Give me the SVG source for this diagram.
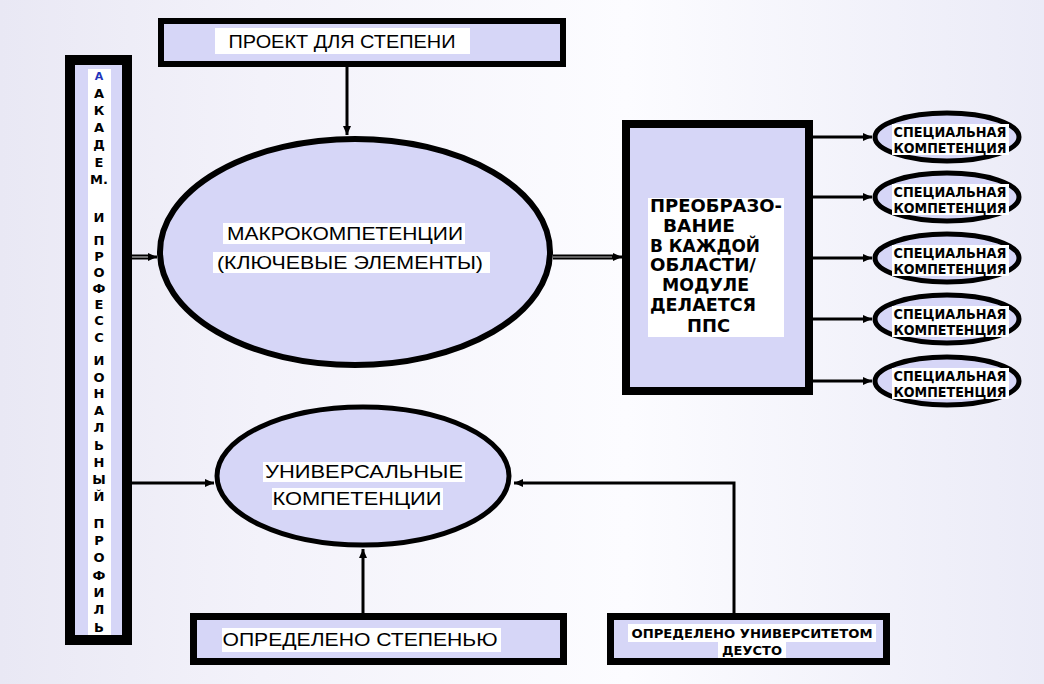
<svg xmlns="http://www.w3.org/2000/svg" width="1044" height="684" viewBox="0 0 1044 684">
<defs>
<linearGradient id="bg" x1="0" y1="0" x2="1" y2="0">
<stop offset="0" stop-color="#e9e8f4"/>
<stop offset="0.25" stop-color="#f3f2fa"/>
<stop offset="0.6" stop-color="#fcfcff"/>
<stop offset="1" stop-color="#ebebf7"/>
</linearGradient>
<marker id="arr" markerUnits="userSpaceOnUse" markerWidth="10" markerHeight="10" refX="9" refY="4" orient="auto">
<path d="M0,0 L9,4 L0,8 z" fill="#000"/>
</marker>
<style>
.box{fill:#d6d6f7;stroke:#000;}
.ell{fill:#d6d6f7;stroke:#000;}
.bgw{fill:#fff;}
.t{font-family:"Liberation Sans",Arial,sans-serif;font-size:19px;fill:#000;text-anchor:middle;}
.tb{font-family:"DejaVu Sans",sans-serif;font-weight:bold;font-size:14px;fill:#000;text-anchor:middle;}
.tv{font-family:"DejaVu Sans",sans-serif;font-weight:bold;font-size:13px;fill:#000;text-anchor:middle;}
.tp{font-family:"DejaVu Sans",sans-serif;font-weight:bold;font-size:17px;fill:#000;}
.c{fill:none;stroke:#000;stroke-width:3;}
.cd{fill:none;stroke:#000;stroke-width:5;}
.ci{fill:none;stroke:#bbb;stroke-width:1.2;}
</style>
</defs>
<rect x="0" y="0" width="1044" height="684" fill="url(#bg)"/>

<g id="connectors">
<line class="c" x1="347" y1="67" x2="347" y2="135" marker-end="url(#arr)"/>
<line class="cd" x1="131" y1="257" x2="150" y2="257"/>
<line class="ci" x1="131" y1="257" x2="150" y2="257"/>
<line class="c" x1="148" y1="257" x2="157" y2="257" marker-end="url(#arr)"/>
<line class="c" x1="131" y1="483" x2="214" y2="483" marker-end="url(#arr)"/>
<line class="cd" x1="553" y1="257" x2="615" y2="257"/>
<line class="ci" x1="553" y1="257" x2="615" y2="257"/>
<line class="c" x1="612" y1="257" x2="622" y2="257" marker-end="url(#arr)"/>
<line class="c" x1="813" y1="137" x2="872" y2="137" marker-end="url(#arr)"/>
<line class="c" x1="813" y1="197" x2="872" y2="197" marker-end="url(#arr)"/>
<line class="c" x1="813" y1="258" x2="872" y2="258" marker-end="url(#arr)"/>
<line class="c" x1="813" y1="319" x2="872" y2="319" marker-end="url(#arr)"/>
<line class="c" x1="813" y1="381" x2="872" y2="381" marker-end="url(#arr)"/>
<line class="c" x1="363" y1="613" x2="363" y2="549" marker-end="url(#arr)"/>
<polyline class="c" points="734,613 734,483 514,483" marker-end="url(#arr)"/>
</g>

<g id="profile">
<rect class="box" x="70" y="60" width="57" height="580" stroke-width="10"/>
<rect class="bgw" x="88" y="69" width="23" height="566"/>
<text class="tv" x="99" y="80" style="fill:#2233bb;font-size:11px">А</text>
<text class="tv" x="99" y="98">А</text>
<text class="tv" x="99" y="115">К</text>
<text class="tv" x="99" y="132">А</text>
<text class="tv" x="99" y="149">Д</text>
<text class="tv" x="99" y="167">Е</text>
<text class="tv" x="99" y="184">М.</text>
<text class="tv" x="99" y="222">И</text>
<text class="tv" x="99" y="245">П</text>
<text class="tv" x="99" y="261">Р</text>
<text class="tv" x="99" y="277">О</text>
<text class="tv" x="99" y="293">Ф</text>
<text class="tv" x="99" y="309">Е</text>
<text class="tv" x="99" y="325">С</text>
<text class="tv" x="99" y="342">С</text>
<text class="tv" x="99" y="365">И</text>
<text class="tv" x="99" y="382">О</text>
<text class="tv" x="99" y="398">Н</text>
<text class="tv" x="99" y="415">А</text>
<text class="tv" x="99" y="432">Л</text>
<text class="tv" x="99" y="450">Ь</text>
<text class="tv" x="99" y="467">Н</text>
<text class="tv" x="99" y="484">Ы</text>
<text class="tv" x="99" y="501">Й</text>
<text class="tv" x="99" y="528">П</text>
<text class="tv" x="99" y="545">Р</text>
<text class="tv" x="99" y="562">О</text>
<text class="tv" x="99" y="580">Ф</text>
<text class="tv" x="99" y="597">И</text>
<text class="tv" x="99" y="614">Л</text>
<text class="tv" x="99" y="632">Ь</text>
</g>

<g id="project">
<rect class="box" x="161" y="21" width="402" height="43" stroke-width="6"/>
<rect class="bgw" x="215" y="28" width="255" height="26"/>
<text class="t" x="342" y="48" textLength="227" lengthAdjust="spacingAndGlyphs">ПРОЕКТ ДЛЯ СТЕПЕНИ</text>
</g>

<g id="macro">
<ellipse class="ell" cx="355" cy="252" rx="195" ry="113" stroke-width="6"/>
<rect class="bgw" x="223" y="223" width="242" height="21"/>
<rect class="bgw" x="213" y="252" width="277" height="21"/>
<text class="t" x="345" y="240" textLength="236" lengthAdjust="spacingAndGlyphs">МАКРОКОМПЕТЕНЦИИ</text>
<text class="t" x="350" y="269" textLength="266" lengthAdjust="spacingAndGlyphs">(КЛЮЧЕВЫЕ ЭЛЕМЕНТЫ)</text>
</g>

<g id="transform">
<rect class="box" x="626" y="124" width="183" height="267" stroke-width="8"/>
<rect class="bgw" x="648" y="198" width="136" height="139"/>
<text class="tp" x="650" y="212" textLength="132" lengthAdjust="spacingAndGlyphs">ПРЕОБРАЗО-</text>
<text class="tp" x="663" y="232" textLength="72" lengthAdjust="spacingAndGlyphs">ВАНИЕ</text>
<text class="tp" x="650" y="252" textLength="110" lengthAdjust="spacingAndGlyphs">В КАЖДОЙ</text>
<text class="tp" x="650" y="271" textLength="106" lengthAdjust="spacingAndGlyphs">ОБЛАСТИ/</text>
<text class="tp" x="662" y="291" textLength="87" lengthAdjust="spacingAndGlyphs">МОДУЛЕ</text>
<text class="tp" x="650" y="311" textLength="106" lengthAdjust="spacingAndGlyphs">ДЕЛАЕТСЯ</text>
<text class="tp" x="687" y="332" textLength="43" lengthAdjust="spacingAndGlyphs">ППС</text>
</g>

<g id="special1">
<ellipse class="ell" cx="947" cy="137" rx="72" ry="24" stroke-width="5"/>
<rect class="bgw" x="892" y="124" width="117" height="31"/>
<text class="tb" x="950" y="137" textLength="113" lengthAdjust="spacingAndGlyphs">СПЕЦИАЛЬНАЯ</text>
<text class="tb" x="950" y="153" textLength="113" lengthAdjust="spacingAndGlyphs">КОМПЕТЕНЦИЯ</text>
</g>
<g id="special2">
<ellipse class="ell" cx="947" cy="197" rx="72" ry="24" stroke-width="5"/>
<rect class="bgw" x="892" y="184" width="117" height="31"/>
<text class="tb" x="950" y="197" textLength="113" lengthAdjust="spacingAndGlyphs">СПЕЦИАЛЬНАЯ</text>
<text class="tb" x="950" y="213" textLength="113" lengthAdjust="spacingAndGlyphs">КОМПЕТЕНЦИЯ</text>
</g>
<g id="special3">
<ellipse class="ell" cx="947" cy="258" rx="72" ry="24" stroke-width="5"/>
<rect class="bgw" x="892" y="245" width="117" height="31"/>
<text class="tb" x="950" y="258" textLength="113" lengthAdjust="spacingAndGlyphs">СПЕЦИАЛЬНАЯ</text>
<text class="tb" x="950" y="274" textLength="113" lengthAdjust="spacingAndGlyphs">КОМПЕТЕНЦИЯ</text>
</g>
<g id="special4">
<ellipse class="ell" cx="947" cy="319" rx="72" ry="24" stroke-width="5"/>
<rect class="bgw" x="892" y="306" width="117" height="31"/>
<text class="tb" x="950" y="319" textLength="113" lengthAdjust="spacingAndGlyphs">СПЕЦИАЛЬНАЯ</text>
<text class="tb" x="950" y="335" textLength="113" lengthAdjust="spacingAndGlyphs">КОМПЕТЕНЦИЯ</text>
</g>
<g id="special5">
<ellipse class="ell" cx="947" cy="381" rx="72" ry="24" stroke-width="5"/>
<rect class="bgw" x="892" y="368" width="117" height="31"/>
<text class="tb" x="950" y="381" textLength="113" lengthAdjust="spacingAndGlyphs">СПЕЦИАЛЬНАЯ</text>
<text class="tb" x="950" y="397" textLength="113" lengthAdjust="spacingAndGlyphs">КОМПЕТЕНЦИЯ</text>
</g>

<g id="universal">
<ellipse class="ell" cx="363" cy="476" rx="146" ry="69" stroke-width="5"/>
<rect class="bgw" x="263" y="462" width="202" height="20"/>
<rect class="bgw" x="272" y="488" width="171" height="22"/>
<text class="t" x="364" y="478" textLength="198" lengthAdjust="spacingAndGlyphs">УНИВЕРСАЛЬНЫЕ</text>
<text class="t" x="357" y="505" textLength="169" lengthAdjust="spacingAndGlyphs">КОМПЕТЕНЦИИ</text>
</g>

<g id="by-degree">
<rect class="box" x="193.5" y="616.5" width="370" height="45" stroke-width="7"/>
<rect class="bgw" x="222" y="628" width="279" height="24"/>
<text class="t" x="360" y="646" textLength="275" lengthAdjust="spacingAndGlyphs">ОПРЕДЕЛЕНО СТЕПЕНЬЮ</text>
</g>

<g id="by-deusto">
<rect class="box" x="610.5" y="616.5" width="276" height="45" stroke-width="7"/>
<rect class="bgw" x="628" y="624" width="248" height="18"/>
<rect class="bgw" x="718" y="642" width="68" height="16"/>
<text class="tb" x="752" y="638" style="font-size:13px" textLength="241" lengthAdjust="spacingAndGlyphs">ОПРЕДЕЛЕНО УНИВЕРСИТЕТОМ</text>
<text class="tb" x="752" y="655" style="font-size:13px" textLength="60" lengthAdjust="spacingAndGlyphs">ДЕУСТО</text>
</g>
</svg>
